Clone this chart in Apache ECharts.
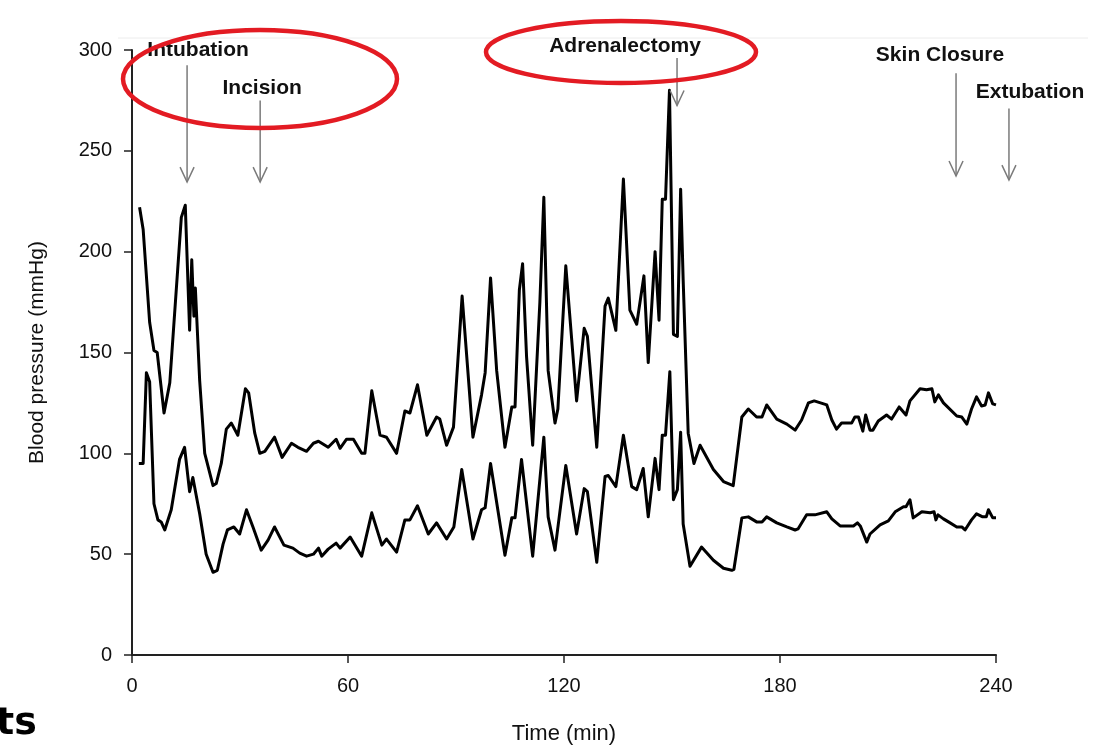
<!DOCTYPE html>
<html>
<head>
<meta charset="utf-8">
<script src="https://cdn.jsdelivr.net/npm/echarts@6/dist/echarts.min.js"></script>
<style>
  html, body { margin: 0; padding: 0; background: #fff; }
  #chart { width: 1109px; height: 746px; }
</style>
</head>
<body>
<div id="chart"></div>
<script>
// systolic trace (upper)
const sysTime = [2.1, 3.1, 4.9, 6.1, 7.0, 8.9, 10.5, 13.7, 14.8, 16.0, 16.6, 17.2, 17.6, 18.8, 20.2, 22.5, 23.4, 24.8, 26.2, 27.6,
  29.4, 31.5, 32.4, 34.1, 35.5, 36.9, 39.6, 41.7, 44.3, 46.1, 48.5, 50.4, 51.8, 54.5, 56.7, 57.8, 59.6, 61.5, 63.8, 64.7,
  66.6, 68.9, 70.7, 73.5, 75.8, 77.2, 79.3, 81.9, 84.6, 85.5, 87.4, 89.3, 91.7, 94.7, 97.1, 98.1, 99.6, 101.3, 103.6, 105.5,
  106.4, 107.6, 108.5, 109.6, 111.3, 113.3, 114.4, 115.6, 117.5, 118.3, 120.5, 123.5, 125.6, 126.5, 129.1, 131.4, 132.3, 134.4, 136.5, 138.3,
  140.2, 142.2, 143.4, 145.3, 146.4, 147.3, 148.2, 149.3, 150.4, 151.5, 152.4, 153.1, 154.5, 156.1, 157.8, 161.5, 164.3, 167.0, 167.5, 169.4,
  171.2, 173.5, 175.0, 176.3, 179.1, 181.9, 184.2, 186.0, 187.9, 189.5, 193.0, 194.4, 195.7, 197.1, 199.9, 200.8, 201.8, 203.0, 203.8, 205.0,
  205.8, 207.3, 209.6, 211.0, 213.1, 215.0, 216.1, 218.9, 220.7, 222.2, 223.0, 224.0, 225.4, 229.1, 230.5, 231.9, 233.2, 234.6, 236.0, 237.0,
  237.9, 239.1, 240.0];
const sysValue = [222, 211, 165, 151, 150, 120, 135, 217, 223, 161, 196, 168, 182, 136, 100, 84, 85, 95, 112, 115,
  109, 132, 130, 110, 100, 101, 108, 98, 105, 103, 101, 105, 106, 103, 107, 102.5, 107, 107, 100, 100,
  131, 109, 108, 100, 121, 120, 134, 109, 118, 117, 104, 113, 178, 108, 129, 140, 187, 141, 103, 123,
  123, 181, 194, 148, 104, 175, 227, 141, 115, 122, 193, 126, 162, 158, 103, 173, 177, 161, 236, 171,
  164, 188, 145, 200, 166, 226, 226, 280, 159, 158, 231, 186, 110, 95, 104, 92, 86, 84, 84, 118,
  122, 118, 118, 124, 117, 114.5, 111.5, 116.5, 125, 126, 124, 116.5, 112, 115, 115, 118, 118, 111, 119, 111.5,
  111.5, 116, 119, 117, 123, 119, 126, 132, 131.5, 132, 125.5, 129, 125, 118.5, 118, 114.5, 122, 128, 123.5, 124,
  130, 124.5, 124];

// diastolic trace (lower)
const diaTime = [1.9, 3.1, 4.0, 4.9, 6.1, 7.2, 8.1, 9.1, 10.9, 13.2, 14.6, 16.0, 16.9, 18.8, 20.6, 22.5, 23.7, 25.3, 26.5, 28.3,
  29.9, 31.8, 33.6, 35.9, 37.8, 39.6, 42.2, 44.7, 46.6, 48.5, 50.4, 51.8, 52.7, 54.5, 56.7, 57.8, 60.6, 63.8, 66.6, 69.4,
  70.7, 73.5, 75.8, 77.2, 79.3, 82.3, 84.6, 87.4, 89.4, 91.6, 94.7, 97.1, 98.1, 99.6, 103.6, 105.5, 106.4, 108.2, 111.3, 114.4,
  115.6, 117.5, 120.5, 123.5, 125.6, 126.5, 129.1, 131.4, 132.3, 134.4, 136.5, 138.8, 140.2, 142.0, 143.4, 145.3, 146.4, 147.3, 148.2, 149.4,
  150.4, 151.5, 152.4, 153.1, 155.0, 158.2, 161.5, 164.3, 166.6, 167.2, 169.4, 171.2, 173.5, 175.0, 176.3, 179.1, 181.9, 184.2, 185.0, 187.4,
  189.7, 193.0, 194.4, 196.7, 200.4, 201.5, 202.3, 204.1, 205.0, 207.8, 210.1, 212.0, 214.3, 215.0, 216.1, 217.0, 219.4, 221.7, 222.8, 223.3,
  223.9, 225.4, 226.8, 229.1, 230.5, 231.4, 233.2, 234.6, 236.3, 237.3, 237.9, 239.1, 240.0];
const diaValue = [95, 95, 140, 135.5, 75, 67, 66, 62, 72, 97, 103, 81, 88, 70, 50, 41, 42, 55, 62, 63.5,
  60, 72, 63.5, 52, 57, 63.5, 54.5, 53, 50.5, 49, 50, 53, 49, 52.5, 55.5, 53, 58.5, 49, 70.5, 54.5,
  57.5, 51, 67, 67, 74, 60, 65.5, 57.5, 63.5, 92, 57.5, 72, 73, 95, 49.5, 68, 68, 97, 49, 108,
  68.5, 52, 94, 60, 82.5, 81, 46, 88.5, 89, 83.5, 109, 83.5, 82, 92.5, 68.5, 97.5, 82, 109, 109, 140.5,
  77, 82, 110.5, 65, 44, 53.5, 47, 43, 42, 42.5, 68, 68.5, 66, 66, 68.5, 65.5, 63.5, 62, 62.5, 69.5,
  69.5, 71, 67.5, 64, 64, 65.5, 64, 56, 60, 64.5, 66.5, 71, 73.5, 73.5, 77, 68, 71, 70.5, 71, 67,
  69.5, 67.5, 66, 63.5, 63.5, 62, 67, 70, 68.5, 68.5, 72, 68, 68];

const xTicks = [0, 60, 120, 180, 240];

// surgical events: arrow time, arrow top / tip (mmHg)
const eventNames = ['Intubation', 'Incision', 'Adrenalectomy', 'Skin Closure', 'Extubation'];
const eventTimes = [15.3, 35.6, 151.4, 228.9, 243.6];
const eventTopValue = [292.5, 275, 296, 288.5, 271];
const eventTipValue = [234.5, 234.5, 272.5, 237.5, 235.5];

const chart = echarts.init(document.getElementById('chart'), null, { renderer: 'canvas' });

const axisFont = "'Liberation Sans Narrow', 'Liberation Sans', Arial, sans-serif";

chart.setOption({
  animation: false,
  backgroundColor: '#fff',
  grid: { left: 132, right: 113, top: 50, bottom: 91, containLabel: false, outerBoundsMode: 'none' },
  xAxis: {
    type: 'value',
    min: 0,
    max: 240,
    interval: 60,
    name: 'Time (min)',
    nameLocation: 'middle',
    nameGap: 68,
    nameTextStyle: { color: '#111', fontSize: 22, fontFamily: axisFont },
    axisLine: { lineStyle: { color: '#222', width: 2 } },
    axisTick: { show: true, inside: false, length: 8, lineStyle: { color: '#222', width: 1.5 } },
    axisLabel: {
      color: '#111', fontSize: 20, fontFamily: axisFont, margin: 21,
      formatter: (v) => xTicks.includes(v) ? String(v) : ''
    },
    splitLine: { show: false }
  },
  yAxis: {
    type: 'value',
    min: 0,
    max: 300,
    interval: 50,
    name: 'Blood pressure (mmHg)',
    nameLocation: 'middle',
    nameGap: 84,
    nameTextStyle: { color: '#111', fontSize: 21, fontFamily: "'Liberation Sans', Arial, sans-serif" },
    axisLine: { show: true, lineStyle: { color: '#222', width: 2 } },
    axisTick: { show: true, length: 8, lineStyle: { color: '#222', width: 1.5 } },
    axisLabel: { color: '#111', fontSize: 20, fontFamily: axisFont, margin: 20 },
    splitLine: { show: false }
  },
  series: [
    {
      name: 'Systolic',
      type: 'line',
      showSymbol: false,
      data: sysTime.map((t, i) => [t, sysValue[i]]),
      lineStyle: { color: '#000', width: 3, join: 'round' },
      z: 3
    },
    {
      name: 'Diastolic',
      type: 'line',
      showSymbol: false,
      data: diaTime.map((t, i) => [t, diaValue[i]]),
      lineStyle: { color: '#000', width: 3, join: 'round' },
      z: 3
    }
  ]
});

// label offsets relative to the arrow (px)
const labelDx = [11, 2, -52, -16, 21];
const labelDy = [-15, -12, -12, -18, -16];

const graphics = [];
eventNames.forEach((name, i) => {
  const top = chart.convertToPixel({ xAxisIndex: 0, yAxisIndex: 0 }, [eventTimes[i], eventTopValue[i]]);
  const tip = chart.convertToPixel({ xAxisIndex: 0, yAxisIndex: 0 }, [eventTimes[i], eventTipValue[i]]);
  graphics.push({
    type: 'line',
    shape: { x1: top[0], y1: top[1], x2: tip[0], y2: tip[1] },
    style: { stroke: '#7a7a7a', lineWidth: 1.5 },
    z: 10
  });
  graphics.push({
    type: 'polyline',
    shape: { points: [[tip[0] - 7, tip[1] - 15], [tip[0], tip[1]], [tip[0] + 7, tip[1] - 15]] },
    style: { stroke: '#7a7a7a', lineWidth: 1.5, fill: null },
    z: 10
  });
  graphics.push({
    type: 'text',
    x: top[0] + labelDx[i],
    y: top[1] + labelDy[i],
    style: {
      text: name,
      fill: '#111',
      font: "bold 21px 'Liberation Sans', Arial, sans-serif",
      textAlign: 'center',
      textVerticalAlign: 'middle'
    },
    z: 11
  });
});

// red highlight ellipses
graphics.push({
  type: 'ellipse',
  shape: { cx: 260, cy: 79, rx: 137, ry: 49 },
  style: { stroke: '#e31b23', lineWidth: 4.5, fill: null },
  z: 12
});
graphics.push({
  type: 'ellipse',
  shape: { cx: 621, cy: 52, rx: 135, ry: 31 },
  style: { stroke: '#e31b23', lineWidth: 4.5, fill: null },
  z: 12
});

// faint scan edge at top
graphics.push({
  type: 'line',
  shape: { x1: 118, y1: 38, x2: 1088, y2: 38 },
  style: { stroke: '#ececec', lineWidth: 1 },
  z: 1
});

// clipped heading fragment bottom-left
graphics.push({
  type: 'text',
  x: -4,
  y: 724,
  style: {
    text: 'ts',
    fill: '#000',
    font: "bold 38px 'DejaVu Sans', sans-serif",
    textAlign: 'left',
    textVerticalAlign: 'middle'
  },
  z: 12
});

chart.setOption({ graphic: graphics });
</script>
</body>
</html>
